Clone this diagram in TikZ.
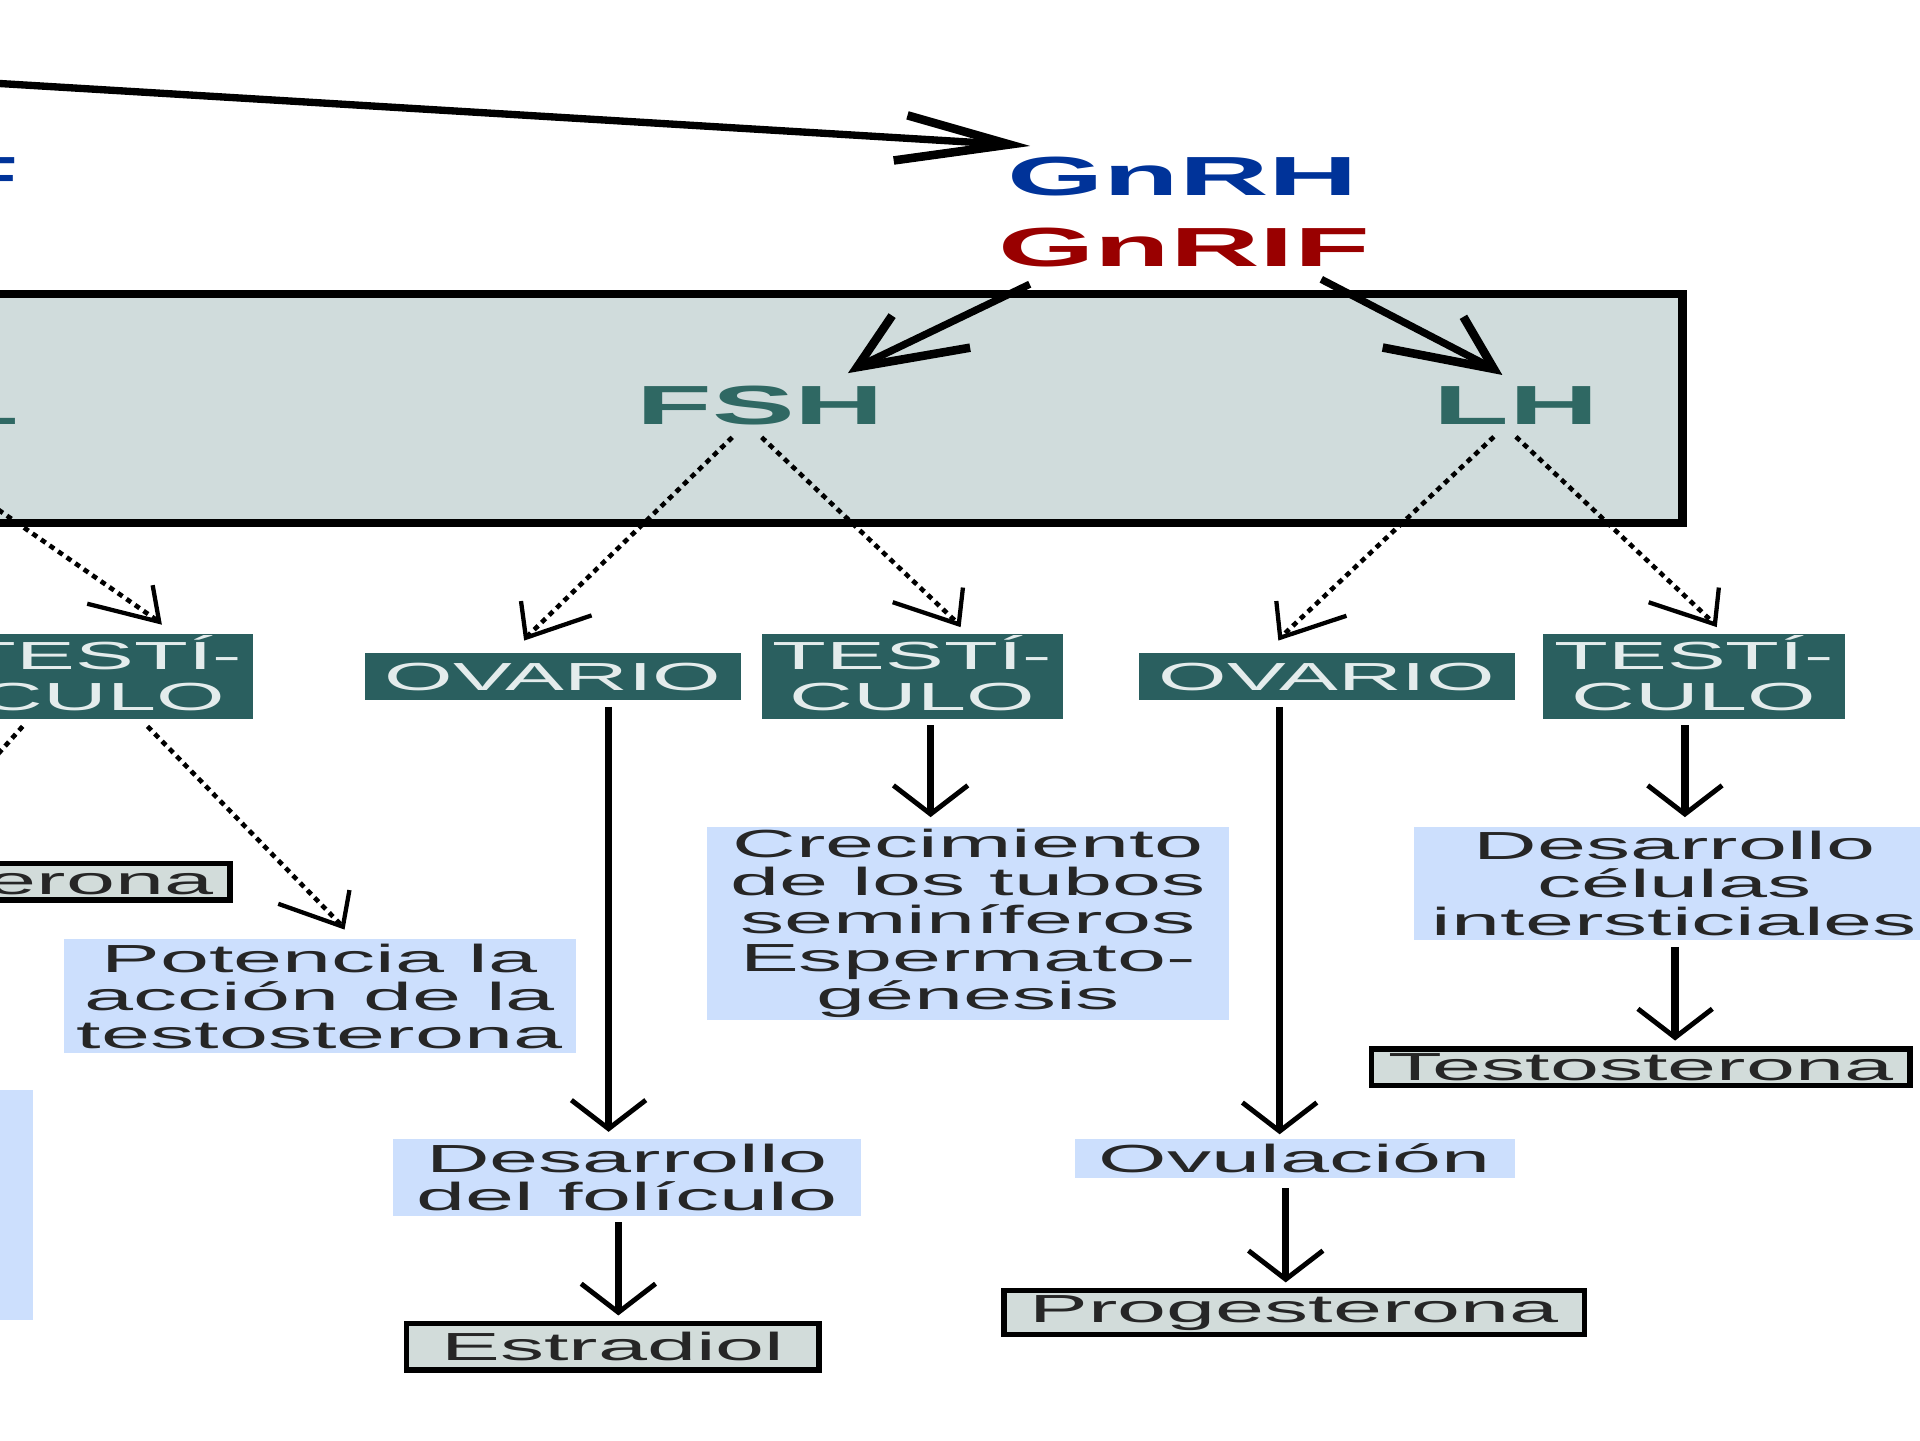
\documentclass[tikz,border=0pt]{standalone}
\usepackage{fontspec}
\setmainfont{Liberation Sans}
\newfontfamily\widefont[FakeStretch=2.25]{Liberation Sans}
\usetikzlibrary{calc}

\definecolor{panelgray}{HTML}{D0DCDC}
\definecolor{organfill}{HTML}{2A5F5F}
\definecolor{organtext}{HTML}{E4ECEC}
\definecolor{hormonetext}{HTML}{2F6863}
\definecolor{effectfill}{HTML}{CCDFFD}
\definecolor{resultfill}{HTML}{D2DCDA}
\definecolor{gnblue}{HTML}{003399}
\definecolor{gnred}{HTML}{990000}

% Arrow with an open barb head; the head is built in an unstretched frame
% and widened horizontally by \hstretch, like the lettering.
\def\hstretch{2.25}
\newdimen\arrXa \newdimen\arrYa \newdimen\arrXb \newdimen\arrYb
% #1 shaft style, #2 barb style, #3 barb length, #4 half angle, #5 from, #6 to
\newcommand\sarrow[6]{%
  \path (#5) coordinate (arrA) (#6) coordinate (arrB);
  \pgfextractx{\arrXa}{\pgfpointanchor{arrA}{center}}%
  \pgfextracty{\arrYa}{\pgfpointanchor{arrA}{center}}%
  \pgfextractx{\arrXb}{\pgfpointanchor{arrB}{center}}%
  \pgfextracty{\arrYb}{\pgfpointanchor{arrB}{center}}%
  \pgfmathsetmacro\arrAng{atan2(\arrYa-\arrYb,(\arrXa-\arrXb)/\hstretch)}%
  \pgfmathsetmacro\arrPx{\arrXb+\hstretch*#3*cos(\arrAng+#4)}%
  \pgfmathsetmacro\arrPy{\arrYb+#3*sin(\arrAng+#4)}%
  \pgfmathsetmacro\arrQx{\arrXb+\hstretch*#3*cos(\arrAng-#4)}%
  \pgfmathsetmacro\arrQy{\arrYb+#3*sin(\arrAng-#4)}%
  \draw[#1] (arrA) -- (arrB);
  \draw[#2] (\arrPx pt,\arrPy pt) -- (arrB) -- (\arrQx pt,\arrQy pt);
}

\tikzset{
  hdr/.style={inner sep=0pt, font=\widefont\bfseries\fontsize{45pt}{45pt}\selectfont},
  organbox/.style={fill=organfill, text=organtext, inner sep=0pt, align=center,
    font=\widefont\fontsize{32pt}{33pt}\selectfont},
  effectbox/.style={fill=effectfill, text=black!85, inner sep=0pt, align=center,
    font=\widefont\fontsize{32pt}{31pt}\selectfont},
  resultbox/.style={fill=resultfill, draw=black, line width=4.5pt, inner sep=0pt,
    text=black!85, font=\widefont\fontsize{32pt}{31pt}\selectfont},
  thickshaft/.style={line width=6pt},
  thickbarb/.style={line width=7pt, line join=miter},
  solidshaft/.style={line width=6pt},
  thinbarb/.style={line width=4pt},
  dotshaft/.style={line width=3.8pt, dash pattern=on 4.5pt off 4pt},
  dotbarb/.style={line width=3.5pt},
}

\begin{document}
\begin{tikzpicture}[x=1pt,y=-1pt]
\useasboundingbox (0,0) rectangle (1568,1176);
\fill[white] (0,0) rectangle (1568,1176);
\clip (0,0) rectangle (1568,1176);

% releasing factors
\node[hdr, text=gnblue] (gnrh) at (966,144) {GnRH};
\node[hdr, text=gnred] (gnrif) at (967,202) {GnRIF};
\node[hdr, text=gnblue, anchor=east] (leftF) at (16,144) {F};

% pituitary panel
\node[fill=panelgray, draw=black, line width=7pt, minimum width=1400pt,
      minimum height=187pt, inner sep=0pt] (panel) at (674,333.5) {};
\node[hdr, text=hormonetext] (fsh) at (621,331) {FSH};
\node[hdr, text=hormonetext] (lh) at (1238,331) {LH};
\node[hdr, text=hormonetext, anchor=east] (leftL) at (16,331) {L};

% target organs
\node[organbox, minimum width=247pt, minimum height=69pt] (testi1) at (83.5,552.5) {TEST\smash{Í}-\\CULO};
\node[organbox, minimum width=307pt, minimum height=39pt] (ov1) at (451.5,552.5) {OVARIO};
\node[organbox, minimum width=246pt, minimum height=69pt] (testi2) at (745,552.5) {TEST\smash{Í}-\\CULO};
\node[organbox, minimum width=307pt, minimum height=39pt] (ov2) at (1083.5,552.5) {OVARIO};
\node[organbox, minimum width=247pt, minimum height=69pt] (testi3) at (1383.5,552.5) {TEST\smash{Í}-\\CULO};

% effects
\node[resultbox, minimum width=440pt, minimum height=30pt] (testoL) at (-32,720) {Testosterona};
\node[effectbox, minimum width=418pt, minimum height=93pt] (potencia) at (261,813.5) {Potencia la\\acción de la\\testosterona};
\node[effectbox, minimum width=77pt, minimum height=188pt] (leftblue) at (-11.5,984) {};
\node[effectbox, minimum width=382pt, minimum height=63pt] (desarr1) at (512,961.5) {Desarrollo\\del folículo};
\node[resultbox, minimum width=337pt, minimum height=38pt] (estradiol) at (500.5,1100) {Estradiol};
\node[effectbox, minimum width=427pt, minimum height=158pt] (crec) at (790.5,754) {Crecimiento\\de los tubos\\seminíferos\\Espermato-\\génesis};
\node[effectbox, minimum width=359pt, minimum height=32pt] (ovul) at (1057.5,946) {Ovulación};
\node[resultbox, minimum width=474pt, minimum height=36pt] (proges) at (1057,1072) {Progesterona};
\node[effectbox, minimum width=425pt, minimum height=93pt] (desc) at (1367.5,721.5) {Desarrollo\\células\\intersticiales};
\node[resultbox, minimum width=440pt, minimum height=30pt] (testo) at (1340,871.5) {Testosterona};

% loose ends of connectors entering from the left
\coordinate (hypo) at (-20,67);
\coordinate (leftsrc) at (-85,358);

% hypothalamus to GnRH, GnRIF to FSH and LH
\sarrow{thickshaft}{thickbarb}{44}{25}{hypo}{$(gnrh.west)+(2,-26)$}
\sarrow{thickshaft}{thickbarb}{44}{26}{$(gnrif.south west)+(26,14)$}{$(fsh.north)+(79,-15)$}
\sarrow{thickshaft}{thickbarb}{44}{26}{$(gnrif.south east)+(-40,10)$}{$(lh.north)+(-18,-14)$}

% hormones to organs
\sarrow{dotshaft}{dotbarb}{30}{28}{leftsrc}{$(testi1.north)+(46.5,-10)$}
\sarrow{dotshaft}{dotbarb}{30}{28}{$(fsh.south)+(-23,10)$}{$(ov1.north)+(-22,-12)$}
\sarrow{dotshaft}{dotbarb}{30}{28}{$(fsh.south)+(1,10)$}{$(testi2.north)+(38,-8)$}
\sarrow{dotshaft}{dotbarb}{30}{28}{$(lh.south)+(-18,10)$}{$(ov2.north)+(-38,-12)$}
\sarrow{dotshaft}{dotbarb}{30}{28}{$(lh.south)+(0,10)$}{$(testi3.north)+(17,-8)$}

% testicle (left) to its effects
\sarrow{dotshaft}{dotbarb}{30}{28}{$(testi1.south)+(-65,6)$}{$(testoL.north)+(-40,-8)$}
\sarrow{dotshaft}{dotbarb}{30}{28}{$(testi1.south)+(37,6)$}{$(potencia.north)+(19,-10)$}

% organs to effects and products
\sarrow{solidshaft}{thinbarb}{27}{30}{$(ov1.south)+(45.5,5)$}{$(desarr1.north)+(-15,-8)$}
\sarrow{solidshaft}{thinbarb}{27}{30}{$(desarr1.south)+(-7,5)$}{$(estradiol.north)+(4.5,-7)$}
\sarrow{solidshaft}{thinbarb}{27}{30}{$(testi2.south)+(15,5)$}{$(crec.north)+(-30.5,-10)$}
\sarrow{solidshaft}{thinbarb}{27}{30}{$(ov2.south)+(-38.5,5)$}{$(ovul.north)+(-12.5,-6)$}
\sarrow{solidshaft}{thinbarb}{27}{30}{$(ovul.south)+(-7.5,8)$}{$(proges.north)+(-7,-7)$}
\sarrow{solidshaft}{thinbarb}{27}{30}{$(testi3.south)+(-7.5,5)$}{$(desc.north)+(8.5,-10)$}
\sarrow{solidshaft}{thinbarb}{27}{30}{$(desc.south)+(0.5,5)$}{$(testo.north)+(28,-7)$}
\end{tikzpicture}
\end{document}
